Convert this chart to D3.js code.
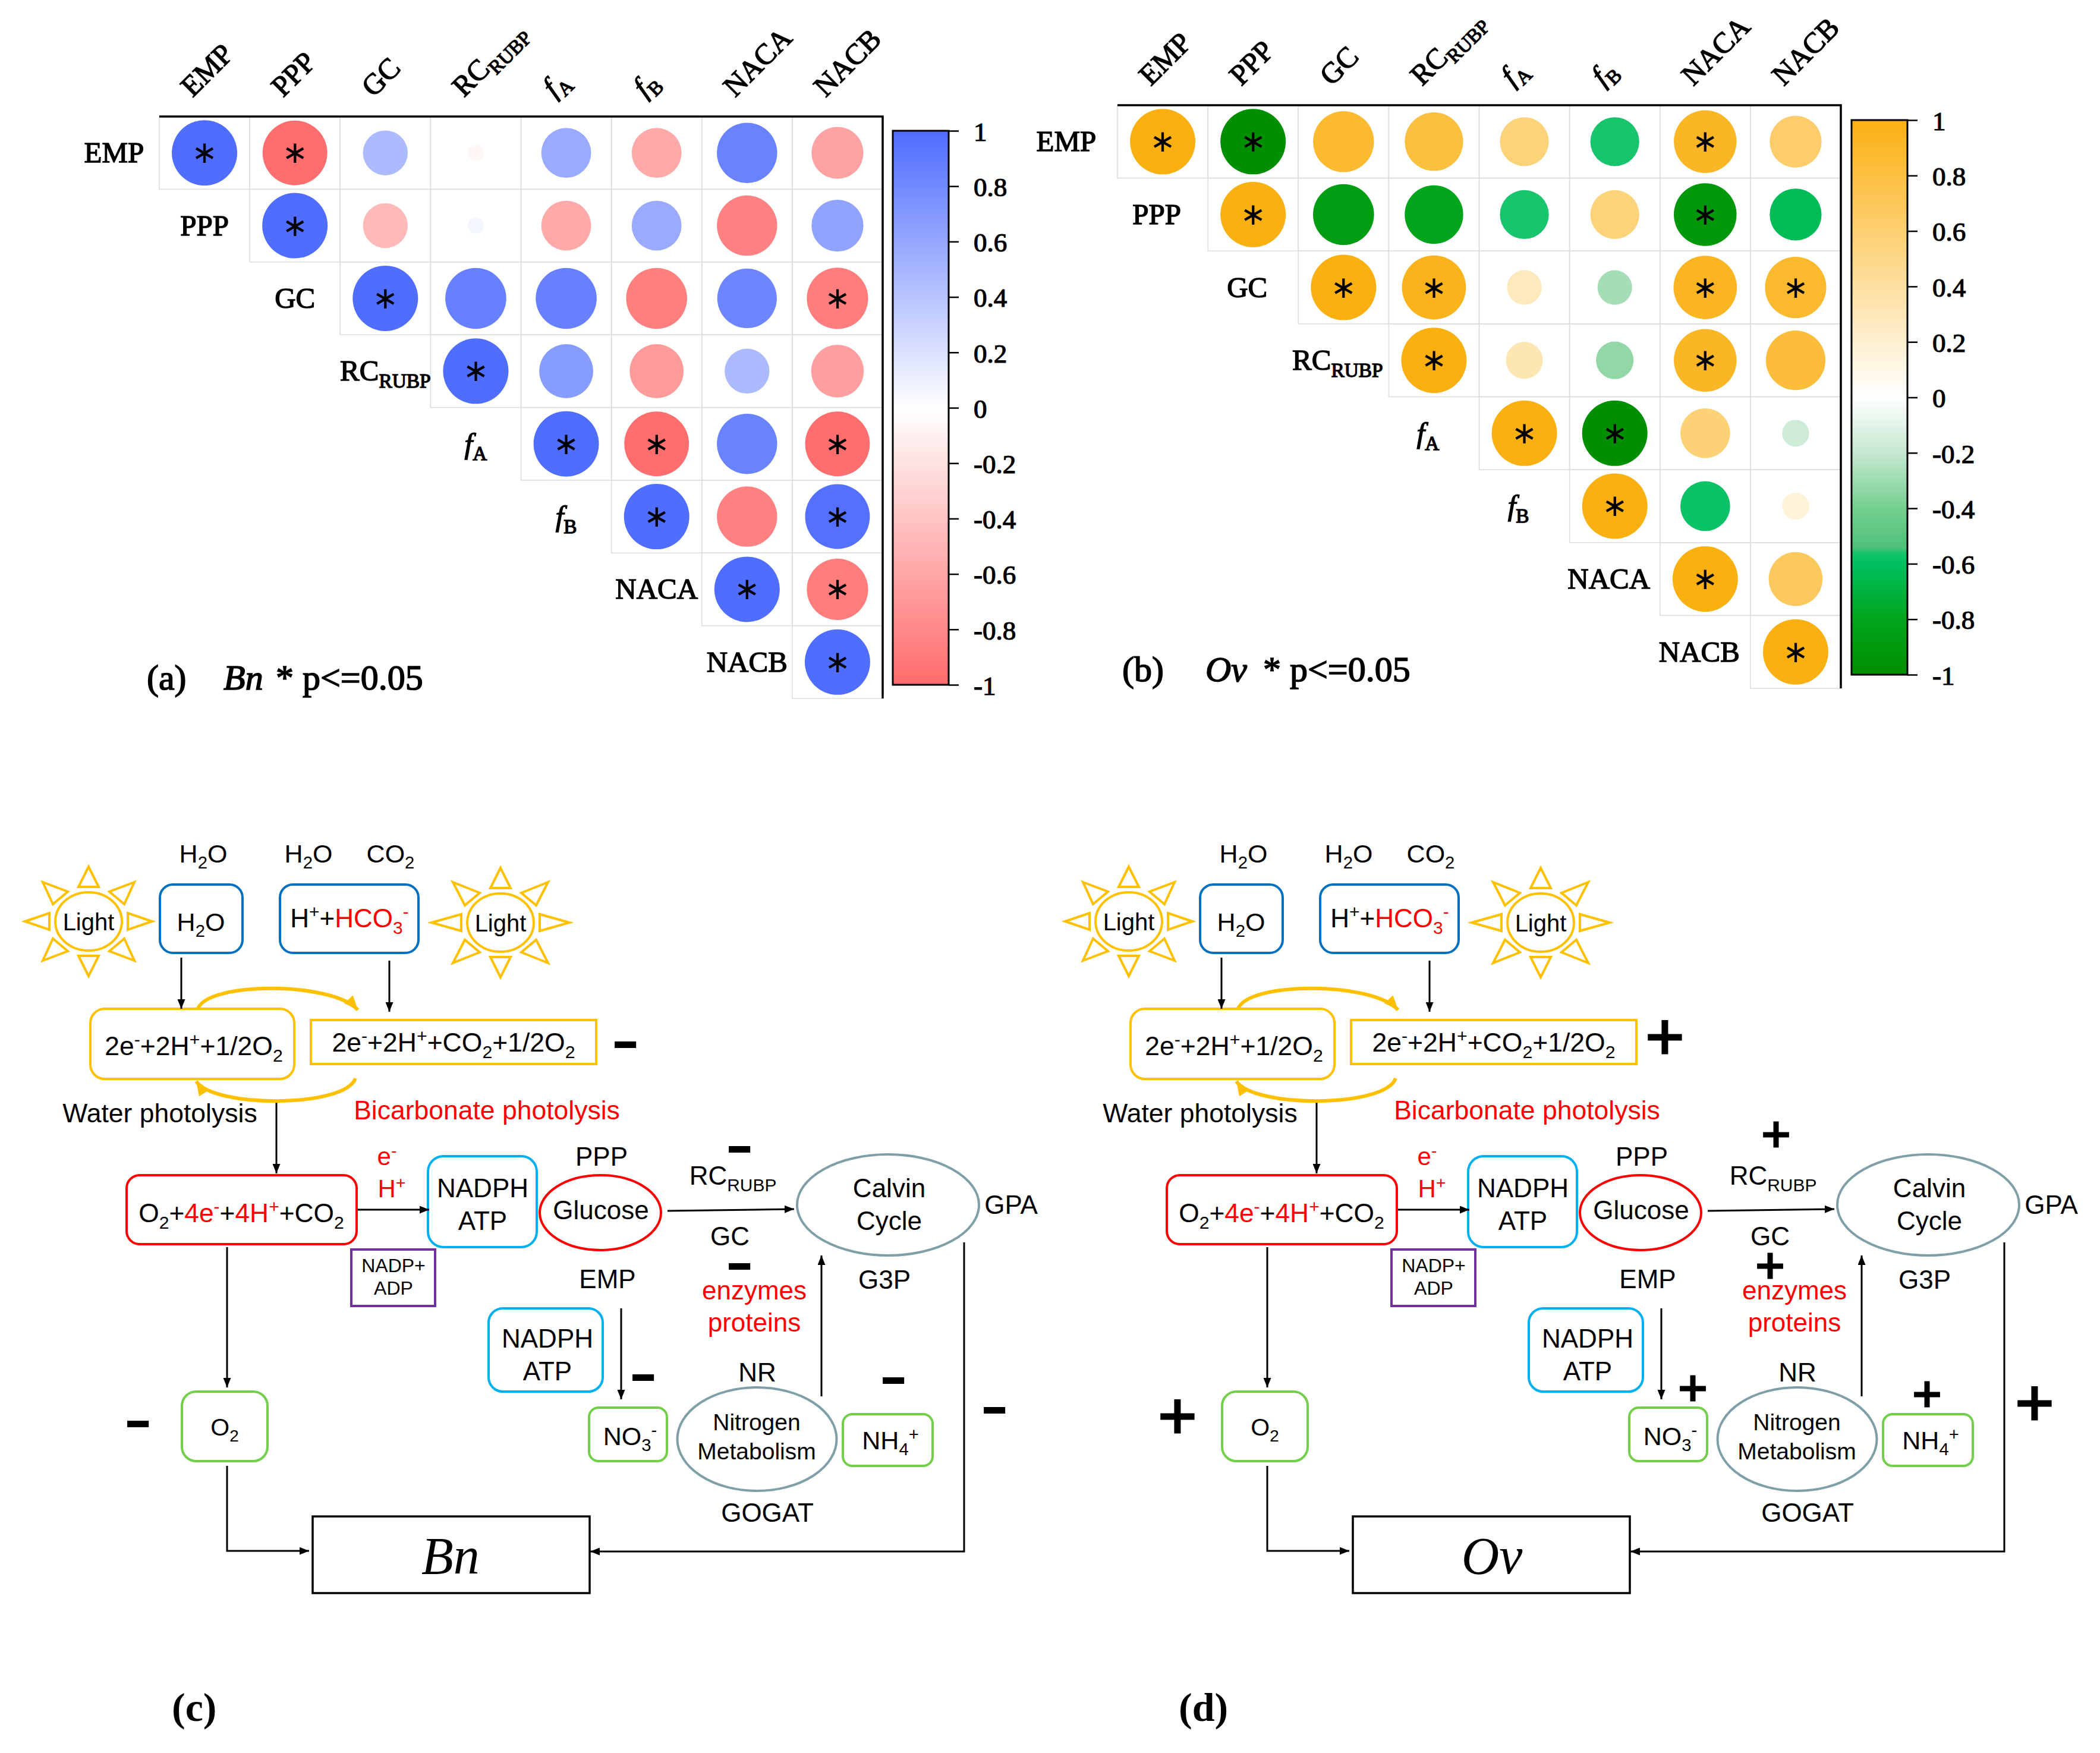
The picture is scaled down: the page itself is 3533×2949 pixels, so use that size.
<!DOCTYPE html>
<html><head><meta charset="utf-8">
<script src="https://cdn.jsdelivr.net/npm/d3@7/dist/d3.min.js"></script>
<style>html,body{margin:0;padding:0;background:#fff}svg{display:block}</style>
</head><body><svg id="c" width="3533" height="2949" xmlns="http://www.w3.org/2000/svg"></svg>
<script>
// ---------- data ----------
const variables = ["EMP","PPP","GC","RC_{RUBP}","<i>f</i>_{A}","<i>f</i>_{B}","NACA","NACB"];
const colorTicks = [1,0.8,0.6,0.4,0.2,0,-0.2,-0.4,-0.6,-0.8,-1];
// upper-triangle correlations, each row starts on the diagonal
const bnValues = [
  [1,-0.98,0.47,-0.06,0.58,-0.58,0.85,-0.63],
  [1,-0.47,0.06,-0.58,0.58,-0.85,0.63],
  [1,0.87,0.87,-0.87,0.83,-0.88],
  [1,0.68,-0.68,0.47,-0.65],
  [1,-0.98,0.85,-0.98],
  [1,-0.85,0.98],
  [1,-0.88],
  [1]];
const bnStars = [
  [1,1,0,0,0,0,0,0],[1,0,0,0,0,0,0],[1,0,0,0,0,1],[1,0,0,0,0],[1,1,0,1],[1,0,1],[1,1],[1]];
const ovValues = [
  [1,-1,0.87,0.8,0.56,-0.56,0.92,0.63],
  [1,-0.87,-0.8,-0.56,0.56,-0.92,-0.63],
  [1,0.96,0.28,-0.28,0.94,0.88],
  [1,0.32,-0.33,0.92,0.83],
  [1,-1,0.58,-0.17],
  [1,-0.58,0.17],
  [1,0.68],
  [1]];
const ovStars = [
  [1,1,0,0,0,0,1,0],[1,0,0,0,0,1,0],[1,1,0,0,1,1],[1,0,0,1,0],[1,1,0,0],[1,0,0],[1,0],[1]];

// ---------- styles ----------
const SERIF = '"Liberation Serif","Times New Roman",serif';
const SANS = '"Liberation Sans",Arial,sans-serif';
const svg = d3.select("#c");
svg.append("rect").attr("width",3533).attr("height",2949).attr("fill","#fff");
const defs = svg.append("defs");
function marker(id,color,w,h){
  defs.append("marker").attr("id",id).attr("markerUnits","userSpaceOnUse")
    .attr("viewBox",`0 0 ${w} ${h}`).attr("markerWidth",w).attr("markerHeight",h)
    .attr("refX",w).attr("refY",h/2).attr("orient","auto")
    .append("path").attr("d",`M0,0L${w},${h/2}L0,${h}Z`).attr("fill",color);
}
marker("ah","#000",16,13);
marker("ao","#FFC000",24,20);

// rich text: _{sub} ^{sup} <r>red</r> <i>italic</i>
function rich(sel,str,size){
  const parts = str.split(/(_\{[^}]*\}|\^\{[^}]*\}|<r>|<\/r>|<i>|<\/i>)/).filter(s=>s!=="");
  let red=false,it=false,off=0;
  parts.forEach(p=>{
    if(p==="<r>"){red=true;return;} if(p==="</r>"){red=false;return;}
    if(p==="<i>"){it=true;return;} if(p==="</i>"){it=false;return;}
    let txt=p,target=0,fs=size;
    if(p.startsWith("_{")){txt=p.slice(2,-1);target=size*0.24;fs=size*0.68;}
    else if(p.startsWith("^{")){txt=p.slice(2,-1);target=-size*0.36;fs=size*0.68;}
    const t=sel.append("tspan").text(txt).attr("font-size",fs).attr("dy",target-off);
    off=target;
    if(red)t.attr("fill","#FF0000");
    if(it)t.attr("font-style","italic");
  });
}
function label(g,x,y,str,o={}){
  const size=o.size||44;
  const t=g.append("text").attr("x",x).attr("y",y)
    .attr("font-family",o.font||SANS).attr("font-size",size)
    .attr("font-weight",o.weight||"normal")
    .attr("text-anchor",o.anchor||"middle").attr("fill",o.fill||"#000");
  if(o.stroke)t.attr("stroke","#000").attr("stroke-width",o.stroke);
  if(o.transform)t.attr("transform",o.transform);
  rich(t,str,size);
  return t;
}

// ---------- correlation panels ----------
function corrPanel(cfg){
  const g=svg.append("g");
  const x=d3.scaleBand().domain(variables).range(cfg.xRange);
  const y=d3.scaleBand().domain(variables).range(cfg.yRange);
  const r=d3.scaleSqrt().domain([0,1]).range([0,55]);
  const cells=[];
  cfg.values.forEach((row,i)=>row.forEach((v,k)=>cells.push({
    r:variables[i],c:variables[i+k],v,s:cfg.stars[i][k]})));
  g.selectAll("rect.cell").data(cells).join("rect").attr("class","cell")
    .attr("x",d=>x(d.c)).attr("y",d=>y(d.r))
    .attr("width",x.bandwidth()).attr("height",y.bandwidth())
    .attr("fill","none").attr("stroke","#dcdcdc").attr("stroke-width",1.5);
  g.selectAll("circle").data(cells).join("circle")
    .attr("cx",d=>x(d.c)+x.bandwidth()/2).attr("cy",d=>y(d.r)+y.bandwidth()/2)
    .attr("r",d=>r(Math.abs(d.v))).attr("fill",d=>cfg.color(d.v));
  g.selectAll("text.star").data(cells.filter(d=>d.s)).join("text").attr("class","star")
    .attr("x",d=>x(d.c)+x.bandwidth()/2).attr("y",d=>y(d.r)+y.bandwidth()/2+17)
    .attr("text-anchor","middle").attr("font-family",'"DejaVu Sans",sans-serif')
    .attr("font-size",52).attr("fill","#000").text("\u2217");
  const [x0,x1]=cfg.xRange,[y0,y1]=cfg.yRange;
  g.append("path").attr("d",d3.line()([[x0,y0],[x1,y0],[x1,y1]]))
    .attr("fill","none").attr("stroke","#000").attr("stroke-width",3.5);
  variables.forEach((v,i)=>{
    label(g,0,0,v,{font:SERIF,size:49,anchor:"start",stroke:1.4,
      transform:`translate(${x(v)+x.bandwidth()/2-20},${y0-31}) rotate(-45)`});
    label(g,x(v)-x.bandwidth()/2+cfg.labelDx,y(v)+y.bandwidth()/2+16,v,{font:SERIF,size:49,stroke:1.4});
  });
  // colour bar
  const cy=d3.scaleLinear().domain([-1,1]).range(cfg.barY);
  const grad=defs.append("linearGradient").attr("id",cfg.id).attr("x1",0).attr("x2",0).attr("y1",1).attr("y2",0);
  d3.range(-1,1.0001,0.01).forEach(v=>grad.append("stop")
    .attr("offset",(v+1)/2).attr("stop-color",cfg.color(v)));
  g.append("rect").attr("x",cfg.barX).attr("y",cfg.barY[1]).attr("width",94)
    .attr("height",cfg.barY[0]-cfg.barY[1]).attr("fill",`url(#${cfg.id})`)
    .attr("stroke","#000").attr("stroke-width",3);
  const ax=g.append("g").attr("transform",`translate(${cfg.barX+94},0)`)
    .call(d3.axisRight(cy).tickValues(colorTicks).tickSize(17).tickPadding(25).tickFormat(d=>String(d)));
  ax.select(".domain").remove();
  ax.selectAll(".tick line").attr("stroke","#000").attr("stroke-width",2.5);
  ax.selectAll("text").attr("font-family",SERIF).attr("font-size",45).attr("fill","#000")
    .attr("stroke","#000").attr("stroke-width",1.2).attr("dy","0.36em");
  // caption
  cfg.caption.forEach(c=>label(g,c[1],cfg.captionY,c[0],{font:SERIF,size:60,anchor:"start",stroke:1.6}));
}
const blueRed=d3.scaleLinear().domain([-1,0,1]).range(["#FF6B6B","#FFFFFF","#4F6DFF"]);
const orangeGreen=d3.scaleLinear()
  .domain([-1,-0.8,-0.6,-0.56,-0.545,-0.4,-0.2,0,1])
  .range(["#008F00","#00A51C","#00C060","#18C46C","#4EC079","#75D090","#C5E8D0","#FFFFFF","#FBB012"]);
corrPanel({id:"gA",values:bnValues,stars:bnStars,color:blueRed,labelDx:0,
  xRange:[268,1485],yRange:[196,1175],barX:1502,barY:[1152,220],captionY:1160,
  caption:[["(a)",247],["<i>Bn</i>",376],["* p<=0.05",464]]});
corrPanel({id:"gB",values:ovValues,stars:ovStars,color:orangeGreen,labelDx:-10,
  xRange:[1880,3097],yRange:[177,1158],barX:3115,barY:[1135,202],captionY:1146,
  caption:[["(b)",1888],["<i>Ov</i>",2028],["* p<=0.05",2125]]});

// ---------- pathway diagrams ----------
const AMBER="#FFC000",BLUE="#0070C0",CYAN="#00B0F0",GREEN="#72CF4A",TEAL="#7F9FA8",RED="#FF0000",PURPLE="#7030A0";
const boxes=[
  [269,1488,139,115,22,BLUE],[471,1488,233,115,22,BLUE],
  [152,1697,343,118,24,AMBER],[523,1716,480,74,0,AMBER],
  [213,1977,387,116,22,RED],[720,1945,183,153,26,CYAN],
  [591,2102,141,95,0,PURPLE],[822,2201,192,140,24,CYAN],
  [306,2341,144,117,24,GREEN],[991,2368,131,90,16,GREEN],[1418,2379,151,87,16,GREEN]];
const ellipses=[[1010,2040,102,63,RED],[1494,2027,153,85,TEAL],[1273.5,2421,134,87,TEAL]];
const blackArrows=[
  [[305,1611],[305,1697]],[[655,1616],[655,1702]],[[465,1854],[465,1974]],
  [[602,2035],[722,2035]],[[1123,2037],[1336,2034]],[[1382,2349],[1382,2112]],
  [[1045,2201],[1045,2354]],[[382,2098],[382,2334]],
  [[382,2466],[382,2609],[520,2609]],[[1622,2090],[1622,2610],[993,2610]]];
const amberArcs=["M333,1697C350,1651 560,1651 602,1699","M598,1814C580,1864 360,1864 330,1819"];
const texts=[
  ["H_{2}O",342,1451,43],["H_{2}O",519,1451,43],["CO_{2}",657,1451,43],
  ["H_{2}O",338,1566,43],["H^{+}+<r>HCO_{3}^{-}</r>",588,1560,44],
  ["Light",149,1565,40],["Light",842,1567,40],
  ["2e^{-}+2H^{+}+1/2O_{2}",326,1775,44.5],["2e^{-}+2H^{+}+CO_{2}+1/2O_{2}",763,1769,44.5],
  ["Water photolysis",269,1888,44.5],["<r>Bicarbonate photolysis</r>",819,1883,44.5],
  ["O_{2}+<r>4e^{-}</r>+<r>4H^{+}</r>+CO_{2}",406,2056,44.3],
  ["<r>e^{-}</r>",651,1960,42],["<r>H^{+}</r>",659,2014,42],
  ["NADPH",812,2014,44],["ATP",812,2069,44],
  ["NADP+",662,2140,32],["ADP",662,2178,32],
  ["PPP",1012,1961,44],["Glucose",1011,2051,44],["EMP",1022,2167,44],
  ["RC_{RUBP}",1233,1993,44],["GC",1228,2095,44],
  ["<r>enzymes</r>",1269,2186,44],["<r>proteins</r>",1269,2240,44],
  ["Calvin",1496,2014,44],["Cycle",1496,2069,44],["GPA",1701,2042,44],["G3P",1488,2168,44],
  ["NADPH",921,2267,44],["ATP",921,2322,44],
  ["NO_{3}^{-}",1060,2431,43],["NR",1274,2324,44],
  ["Nitrogen",1273,2406,39],["Metabolism",1273,2455,39],["GOGAT",1291,2560,44],
  ["NH_{4}^{+}",1498,2438,43],["O_{2}",378,2415,41]];
const sunCentres=[[149,1550,107,77,66],[842,1552,116,80,68]];
const sunRays=(tip,dx,dy)=>[
  [[0,-92],[-17,-58],[17,-58]],[[dx,-dy],[35,-50],[60,-29]],[[tip,0],[66,-14],[66,14]],[[dx,dy],[35,50],[60,29]],
  [[0,92],[-17,58],[17,58]],[[-dx,dy],[-35,50],[-60,29]],[[-tip,0],[-66,-14],[-66,14]],[[-dx,-dy],[-35,-50],[-60,-29]]];
const bnSigns=[[1052,1758,64],[1244,1934,64],[1244,2131,64],[1082,2318,64],[1503,2323,64],[232,2396,64],[1673,2373,64]];
const ovSigns=[[1051,1745,112],[1238,1908,84],[1228,2129,84],[1098,2335,84],[1492,2345,84],[231,2383,112],[1673,2361,112]];

function diagram(dx,cfg){
  const g=svg.append("g").attr("transform",`translate(${dx},0)`);
  sunCentres.forEach(c=>{
    const s=g.append("g").attr("transform",`translate(${c[0]},${c[1]})`);
    s.append("ellipse").attr("rx",56).attr("ry",49).attr("fill","none").attr("stroke",AMBER).attr("stroke-width",4);
    sunRays(c[2],c[3],c[4]).forEach(t=>s.append("path").attr("d",d3.line()(t)+"Z").attr("fill","none")
      .attr("stroke",AMBER).attr("stroke-width",4).attr("stroke-linejoin","miter"));
  });
  boxes.forEach(b=>g.append("rect").attr("x",b[0]).attr("y",b[1]).attr("width",b[2]).attr("height",b[3])
    .attr("rx",b[4]).attr("fill","#fff").attr("stroke",b[5]).attr("stroke-width",4));
  ellipses.forEach(e=>g.append("ellipse").attr("cx",e[0]).attr("cy",e[1]).attr("rx",e[2]).attr("ry",e[3])
    .attr("fill","#fff").attr("stroke",e[4]).attr("stroke-width",4));
  blackArrows.forEach(a=>g.append("path").attr("d",d3.line()(a)).attr("fill","none")
    .attr("stroke","#000").attr("stroke-width",3).attr("marker-end","url(#ah)"));
  amberArcs.forEach(d=>g.append("path").attr("d",d).attr("fill","none")
    .attr("stroke",AMBER).attr("stroke-width",6).attr("marker-end","url(#ao)"));
  g.append("rect").attr("x",526).attr("y",2551).attr("width",466).attr("height",129)
    .attr("fill","#fff").attr("stroke","#000").attr("stroke-width",3.5);
  texts.forEach(t=>label(g,t[1],t[2],t[0],{size:t[3]}));
  label(g,cfg.titleX,2647,`<i>${cfg.title}</i>`,{font:SERIF,size:88});
  cfg.signs.forEach(s=>g.append("text").attr("x",s[0]).attr("y",s[1]+s[2]*cfg.signShift)
    .attr("text-anchor","middle").attr("font-family",SANS).attr("font-weight",cfg.signWeight)
    .attr("font-size",s[2]).attr("stroke","#000").attr("stroke-width",cfg.signStroke)
    .text(cfg.sign));
  label(g,cfg.panelX-dx,cfg.panelY,cfg.panel,{font:SERIF,weight:"bold",size:68,anchor:"start"});
}
diagram(0,{title:"Bn",titleX:758,signs:bnSigns,sign:"\u2212",signShift:0.33,signWeight:"bold",signStroke:4,panel:"(c)",panelX:289,panelY:2895});
diagram(1750,{title:"Ov",titleX:760,signs:ovSigns,sign:"+",signShift:0.33,signWeight:"normal",signStroke:3,panel:"(d)",panelX:1983,panelY:2895});
</script></body></html>
